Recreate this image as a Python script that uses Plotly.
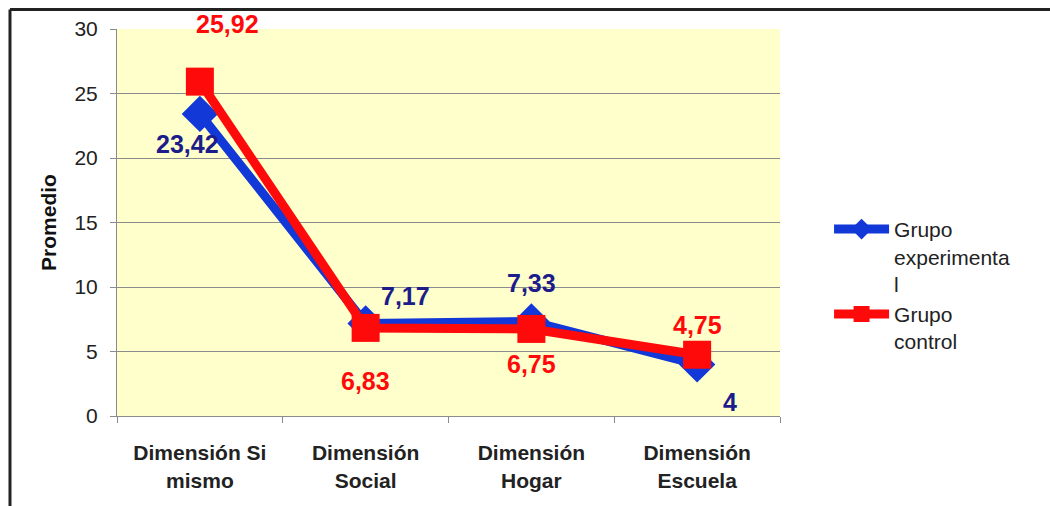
import plotly.graph_objects as go

categorias = ["Dimensión Si<br>mismo", "Dimensión<br>Social", "Dimensión<br>Hogar", "Dimensión<br>Escuela"]
experimental = [23.42, 7.17, 7.33, 4]
control = [25.92, 6.83, 6.75, 4.75]
etiquetas_exp = ["23,42", "7,17", "7,33", "4"]
etiquetas_ctl = ["25,92", "6,83", "6,75", "4,75"]
y_ticks = [0, 5, 10, 15, 20, 25, 30]

FONT = "Liberation Sans, Arial, sans-serif"
AZUL = "#1238D8"
AZUL_TXT = "#1C1C8A"
ROJO = "#FF0A0A"

fig = go.Figure()
fig.add_trace(go.Scatter(
    x=categorias, y=experimental, mode="lines+markers",
    name="Grupo<br>experimenta<br>l",
    line=dict(color=AZUL, width=9),
    marker=dict(symbol="diamond", size=28, color=AZUL),
))
fig.add_trace(go.Scatter(
    x=categorias, y=control, mode="lines+markers",
    name="Grupo<br>control",
    line=dict(color=ROJO, width=9),
    marker=dict(symbol="square", size=28, color=ROJO),
))

# data labels: offsets in pixels relative to each point
off_exp = [(-12, -30), (40, 28), (0, 38), (33, -38)]
off_ctl = [(28, 58), (0, -53), (0, -35), (0, 30)]
ann = []
for cat, v, t, (dx, dy) in zip(categorias, experimental, etiquetas_exp, off_exp):
    ann.append(dict(x=cat, y=v, text=t, showarrow=False, xshift=dx, yshift=dy,
                    font=dict(family=FONT, size=25, color=AZUL_TXT, weight="bold")))
for cat, v, t, (dx, dy) in zip(categorias, control, etiquetas_ctl, off_ctl):
    ann.append(dict(x=cat, y=v, text=t, showarrow=False, xshift=dx, yshift=dy,
                    font=dict(family=FONT, size=25, color=ROJO, weight="bold")))

fig.update_layout(
    width=1050, height=506,
    margin=dict(l=117, r=270, t=29, b=90),
    paper_bgcolor="white",
    plot_bgcolor="#FFFFCC",
    font=dict(family=FONT, color="#222222"),
    showlegend=True,
    legend=dict(x=1.074, y=0.535, xanchor="left", yanchor="top",
                font=dict(family=FONT, size=21, color="#222222"),
                valign="top", bgcolor="rgba(0,0,0,0)", tracegroupgap=8,
                itemwidth=55),
    annotations=ann,
    shapes=[
        dict(type="line", xref="paper", yref="paper", x0=-0.1614, x1=1.41,
             y0=1.0504, y1=1.0504, line=dict(color="#222222", width=3)),
        dict(type="line", xref="paper", yref="paper", x0=-0.1614, x1=-0.1614,
             y0=1.0504, y1=-0.24, line=dict(color="#222222", width=3)),
    ],
)
fig.update_xaxes(
    type="category", tickson="boundaries", ticks="outside", ticklen=6,
    tickcolor="#8C8C8C", showline=True, linecolor="#8C8C8C", linewidth=1,
    showgrid=False, ticklabelstandoff=18,
    tickfont=dict(family=FONT, size=21, color="#222222", weight="bold"),
    range=[-0.5, 3.5],
)
fig.update_yaxes(
    range=[0, 30], tickvals=y_ticks, ticks="outside", ticklen=6,
    tickcolor="#8C8C8C", showline=True, linecolor="#8C8C8C", linewidth=1,
    showgrid=True, gridcolor="#8C8C8C", gridwidth=1, zeroline=False,
    ticklabelstandoff=8,
    tickfont=dict(family=FONT, size=21, color="#222222"),
    title=dict(text="Promedio", standoff=12,
               font=dict(family=FONT, size=21, color="#111111", weight="bold")),
)

fig.write_html("out.html")
